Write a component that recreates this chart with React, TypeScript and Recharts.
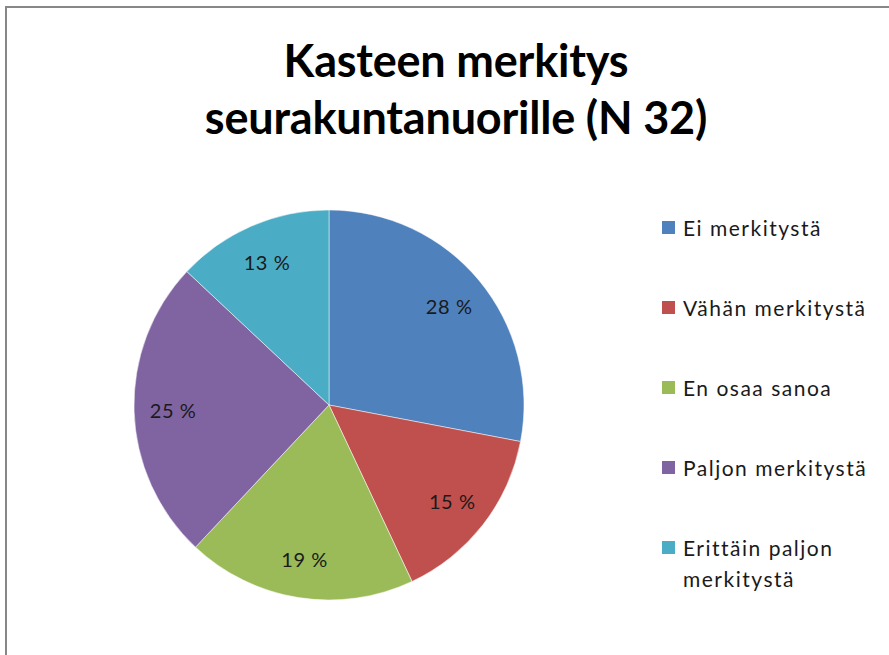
import { PieChart, Pie, Cell, Legend } from "recharts";

const categories = ["Ei merkitystä", "Vähän merkitystä", "En osaa sanoa", "Paljon merkitystä", "Erittäin paljon merkitystä"];
const shares = [28, 15, 19, 25, 13];
const colors = ["#4F81BD", "#C0504D", "#9BBB59", "#8064A2", "#4BACC6"];

const data = categories.map((name, i) => ({ name, value: shares[i], color: colors[i] }));

const FONT = "Lato, 'Open Sans', sans-serif";

const SliceLabel = ({ cx, cy, midAngle, outerRadius, value }: any) => {
  const RADIAN = Math.PI / 180;
  const r = outerRadius * 0.8;
  const x = cx + r * Math.cos(-midAngle * RADIAN);
  const y = cy + r * Math.sin(-midAngle * RADIAN);
  return (
    <text x={x} y={y} fill="#1a1a1a" textAnchor="middle" dominantBaseline="central" fontSize={20} letterSpacing={0.6} fontFamily={FONT}>
      {value} %
    </text>
  );
};

// legend drawn straight from the data so it keeps the slice order
const LegendBox = () => (
  <div style={{ fontFamily: FONT, fontSize: 21, letterSpacing: 1.5, color: "#1a1a1a", width: 215 }}>
    {data.map(d => (
      <div key={d.name} style={{ display: "flex", alignItems: "flex-start", lineHeight: "31px", marginBottom: 49 }}>
        <div style={{ width: 13, height: 13, background: d.color, marginTop: 9, marginRight: 8, flexShrink: 0 }} />
        <span style={{ maxWidth: 192 }}>{d.name}</span>
      </div>
    ))}
  </div>
);

export default function App() {
  return (
    <div style={{ position: "absolute", left: 0, top: 0, width: 889, height: 655, overflow: "hidden", background: "#fff" }}>
      <div style={{ position: "absolute", left: 5, top: 6, width: 920, height: 720, border: "2px solid #878787", boxSizing: "border-box" }} />
      <div
        style={{
          position: "absolute", left: 0, top: 32, width: 912, textAlign: "center",
          fontFamily: FONT, fontWeight: 700, fontSize: 45, lineHeight: "57px", color: "#000", letterSpacing: -0.2,
        }}
      >
        Kasteen merkitys
        <br />
        seurakuntanuorille (N 32)
      </div>
      <div style={{ position: "absolute", left: 0, top: 0 }}>
        <PieChart width={889} height={655}>
          <Pie
            data={data}
            dataKey="value"
            nameKey="name"
            cx={324}
            cy={400}
            outerRadius={195}
            startAngle={90}
            endAngle={-270}
            labelLine={false}
            label={<SliceLabel />}
            isAnimationActive={false}
          >
            {data.map((d, i) => <Cell key={i} fill={d.color} stroke="#ffffff" strokeWidth={0.5} />)}
          </Pie>
          <Legend
            layout="vertical"
            content={<LegendBox />}
            wrapperStyle={{ position: "absolute", left: 662, top: 212, width: 220 }}
          />
        </PieChart>
      </div>
    </div>
  );
}
